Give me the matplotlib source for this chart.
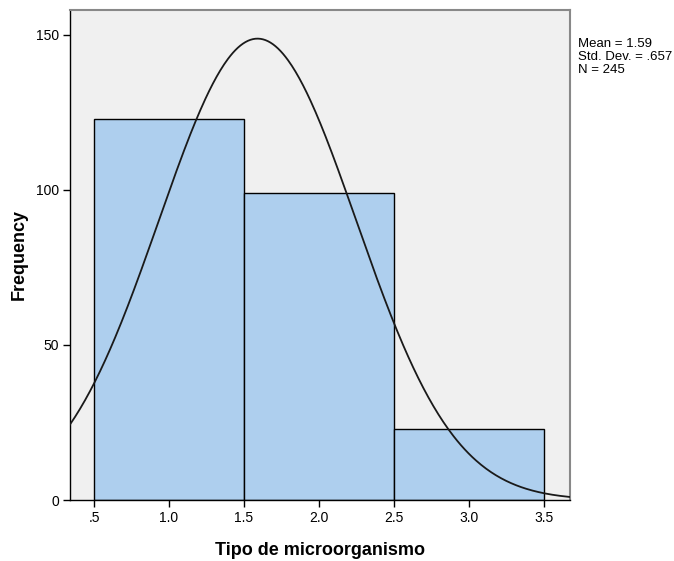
import numpy as np
import matplotlib.pyplot as plt

plt.rcParams['font.family'] = ['Liberation Sans', 'DejaVu Sans']

# histogram data
bin_edges = [0.5, 1.5, 2.5, 3.5]
counts = [123, 99, 23]
mean = 1.59
std = 0.657
n = 245
x_ticks = [0.5, 1.0, 1.5, 2.0, 2.5, 3.0, 3.5]
x_tick_labels = ['.5', '1.0', '1.5', '2.0', '2.5', '3.0', '3.5']
y_ticks = [0, 50, 100, 150]

fig = plt.figure(figsize=(6.74, 5.61), dpi=100)
ax = fig.add_axes([70 / 674, 61 / 561, 500 / 674, 490 / 561])
ax.set_facecolor('#f0f0f0')

widths = np.diff(bin_edges)
ax.bar(bin_edges[:-1], counts, width=widths, align='edge',
       color='#aecfee', edgecolor='black', linewidth=1.0, zorder=2)

# normal curve scaled to counts (bin width 1)
xs = np.linspace(0.34, 3.673, 400)
bw = widths[0]
ys = n * bw / (std * np.sqrt(2 * np.pi)) * np.exp(-0.5 * ((xs - mean) / std) ** 2)
ax.plot(xs, ys, color='#1a1a1a', linewidth=1.3, zorder=3)

ax.set_xlim(0.34, 3.673)
ax.set_ylim(0, 158)
ax.set_xticks(x_ticks)
ax.set_xticklabels(x_tick_labels)
ax.set_yticks(y_ticks)
ax.tick_params(direction='out', length=5, width=1, labelsize=10, color='black', pad=3)

for side in ['left', 'bottom']:
    ax.spines[side].set_color('black')
    ax.spines[side].set_linewidth(1.0)
for side in ['top', 'right']:
    ax.spines[side].set_color('#888888')
    ax.spines[side].set_linewidth(1.5)

ax.set_xlabel('Tipo de microorganismo', fontsize=13, fontweight='bold', labelpad=12)
ax.set_ylabel('Frequency', fontsize=13, fontweight='bold', labelpad=6)

fig.text(578 / 674, 1 - 38 / 561,
         'Mean = 1.59\nStd. Dev. = .657\nN = 245',
         fontsize=9.5, va='top', ha='left', linespacing=1.1)

fig.savefig('out.png', dpi=100)
